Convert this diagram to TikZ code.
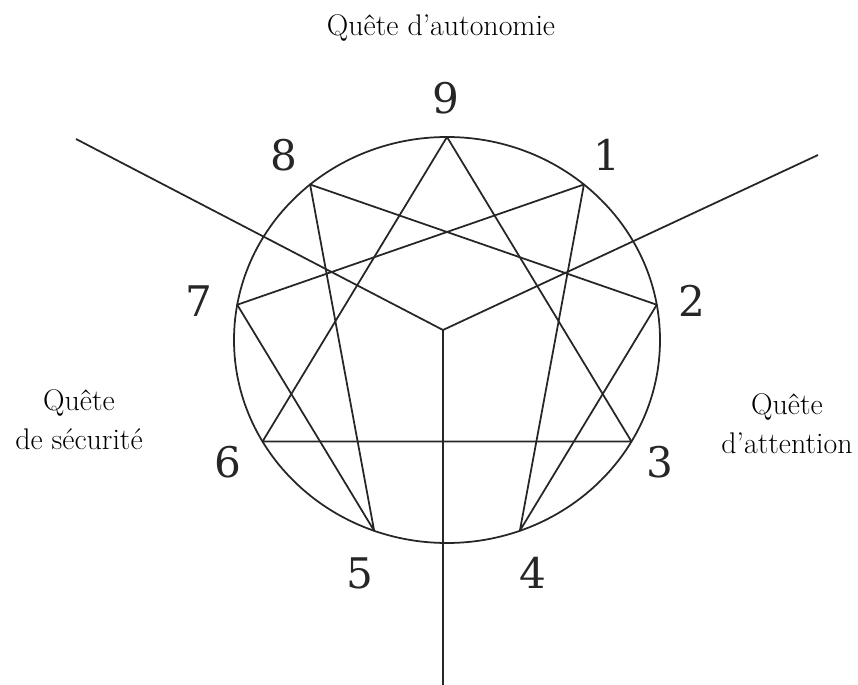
\documentclass[tikz,border=0pt]{standalone}
\usepackage{fontspec}
\newfontfamily\numfont{DejaVu Serif}
\usetikzlibrary{positioning}

\begin{document}
\begin{tikzpicture}[
    x=0.02cm, y=-0.02cm,
    edge/.style={line width=1pt, draw=black!85, line join=round},
    num/.style={font=\numfont\fontsize{24}{30}\selectfont, text=black!85},
    quest/.style={align=center, font=\fontsize{17}{22}\selectfont}
]
    \useasboundingbox (0,0) rectangle (858,685);

    % Circle
    \coordinate (c) at (447,340);
    \draw[edge] (c) ellipse [x radius=213, y radius=203];

    % Points on the circle, 9 on top, going clockwise
    \foreach \i in {1,...,9}
        \coordinate (p\i) at ({447+213*cos(90-40*\i)}, {340-203*sin(90-40*\i)});

    % Triangle 9-3-6
    \draw[edge] (p9) -- (p3) -- (p6) -- cycle;

    % Hexad 1-4-2-8-5-7
    \draw[edge] (p1) -- (p4) -- (p2) -- (p8) -- (p5) -- (p7) -- cycle;

    % Three branches from the middle
    \coordinate (mid) at (443,330);
    \coordinate (endl) at (76,139);
    \coordinate (endr) at (818,155);
    \coordinate (endb) at (443,685);
    \draw[edge] (mid) -- (endl);
    \draw[edge] (mid) -- (endr);
    \draw[edge] (mid) -- (endb);

    % Numbers
    \node[num] (n9) at (446,98) {9};
    \node[num] (n1) at (607,155) {1};
    \node[num] (n2) at (692,301) {2};
    \node[num] (n3) at (660,462) {3};
    \node[num] (n4) at (533,573) {4};
    \node[num] (n5) at (360,573) {5};
    \node[num] (n6) at (228,462) {6};
    \node[num] (n7) at (199,301) {7};
    \node[num] (n8) at (284,155) {8};

    % Labels
    \node[quest] (auto) at (441,28) {Quête d'autonomie};
    \node[quest] (secu) at (79,420) {Quête\\de sécurité};
    \node[quest] (atten) at (787,424) {Quête\\d'attention};
\end{tikzpicture}
\end{document}
